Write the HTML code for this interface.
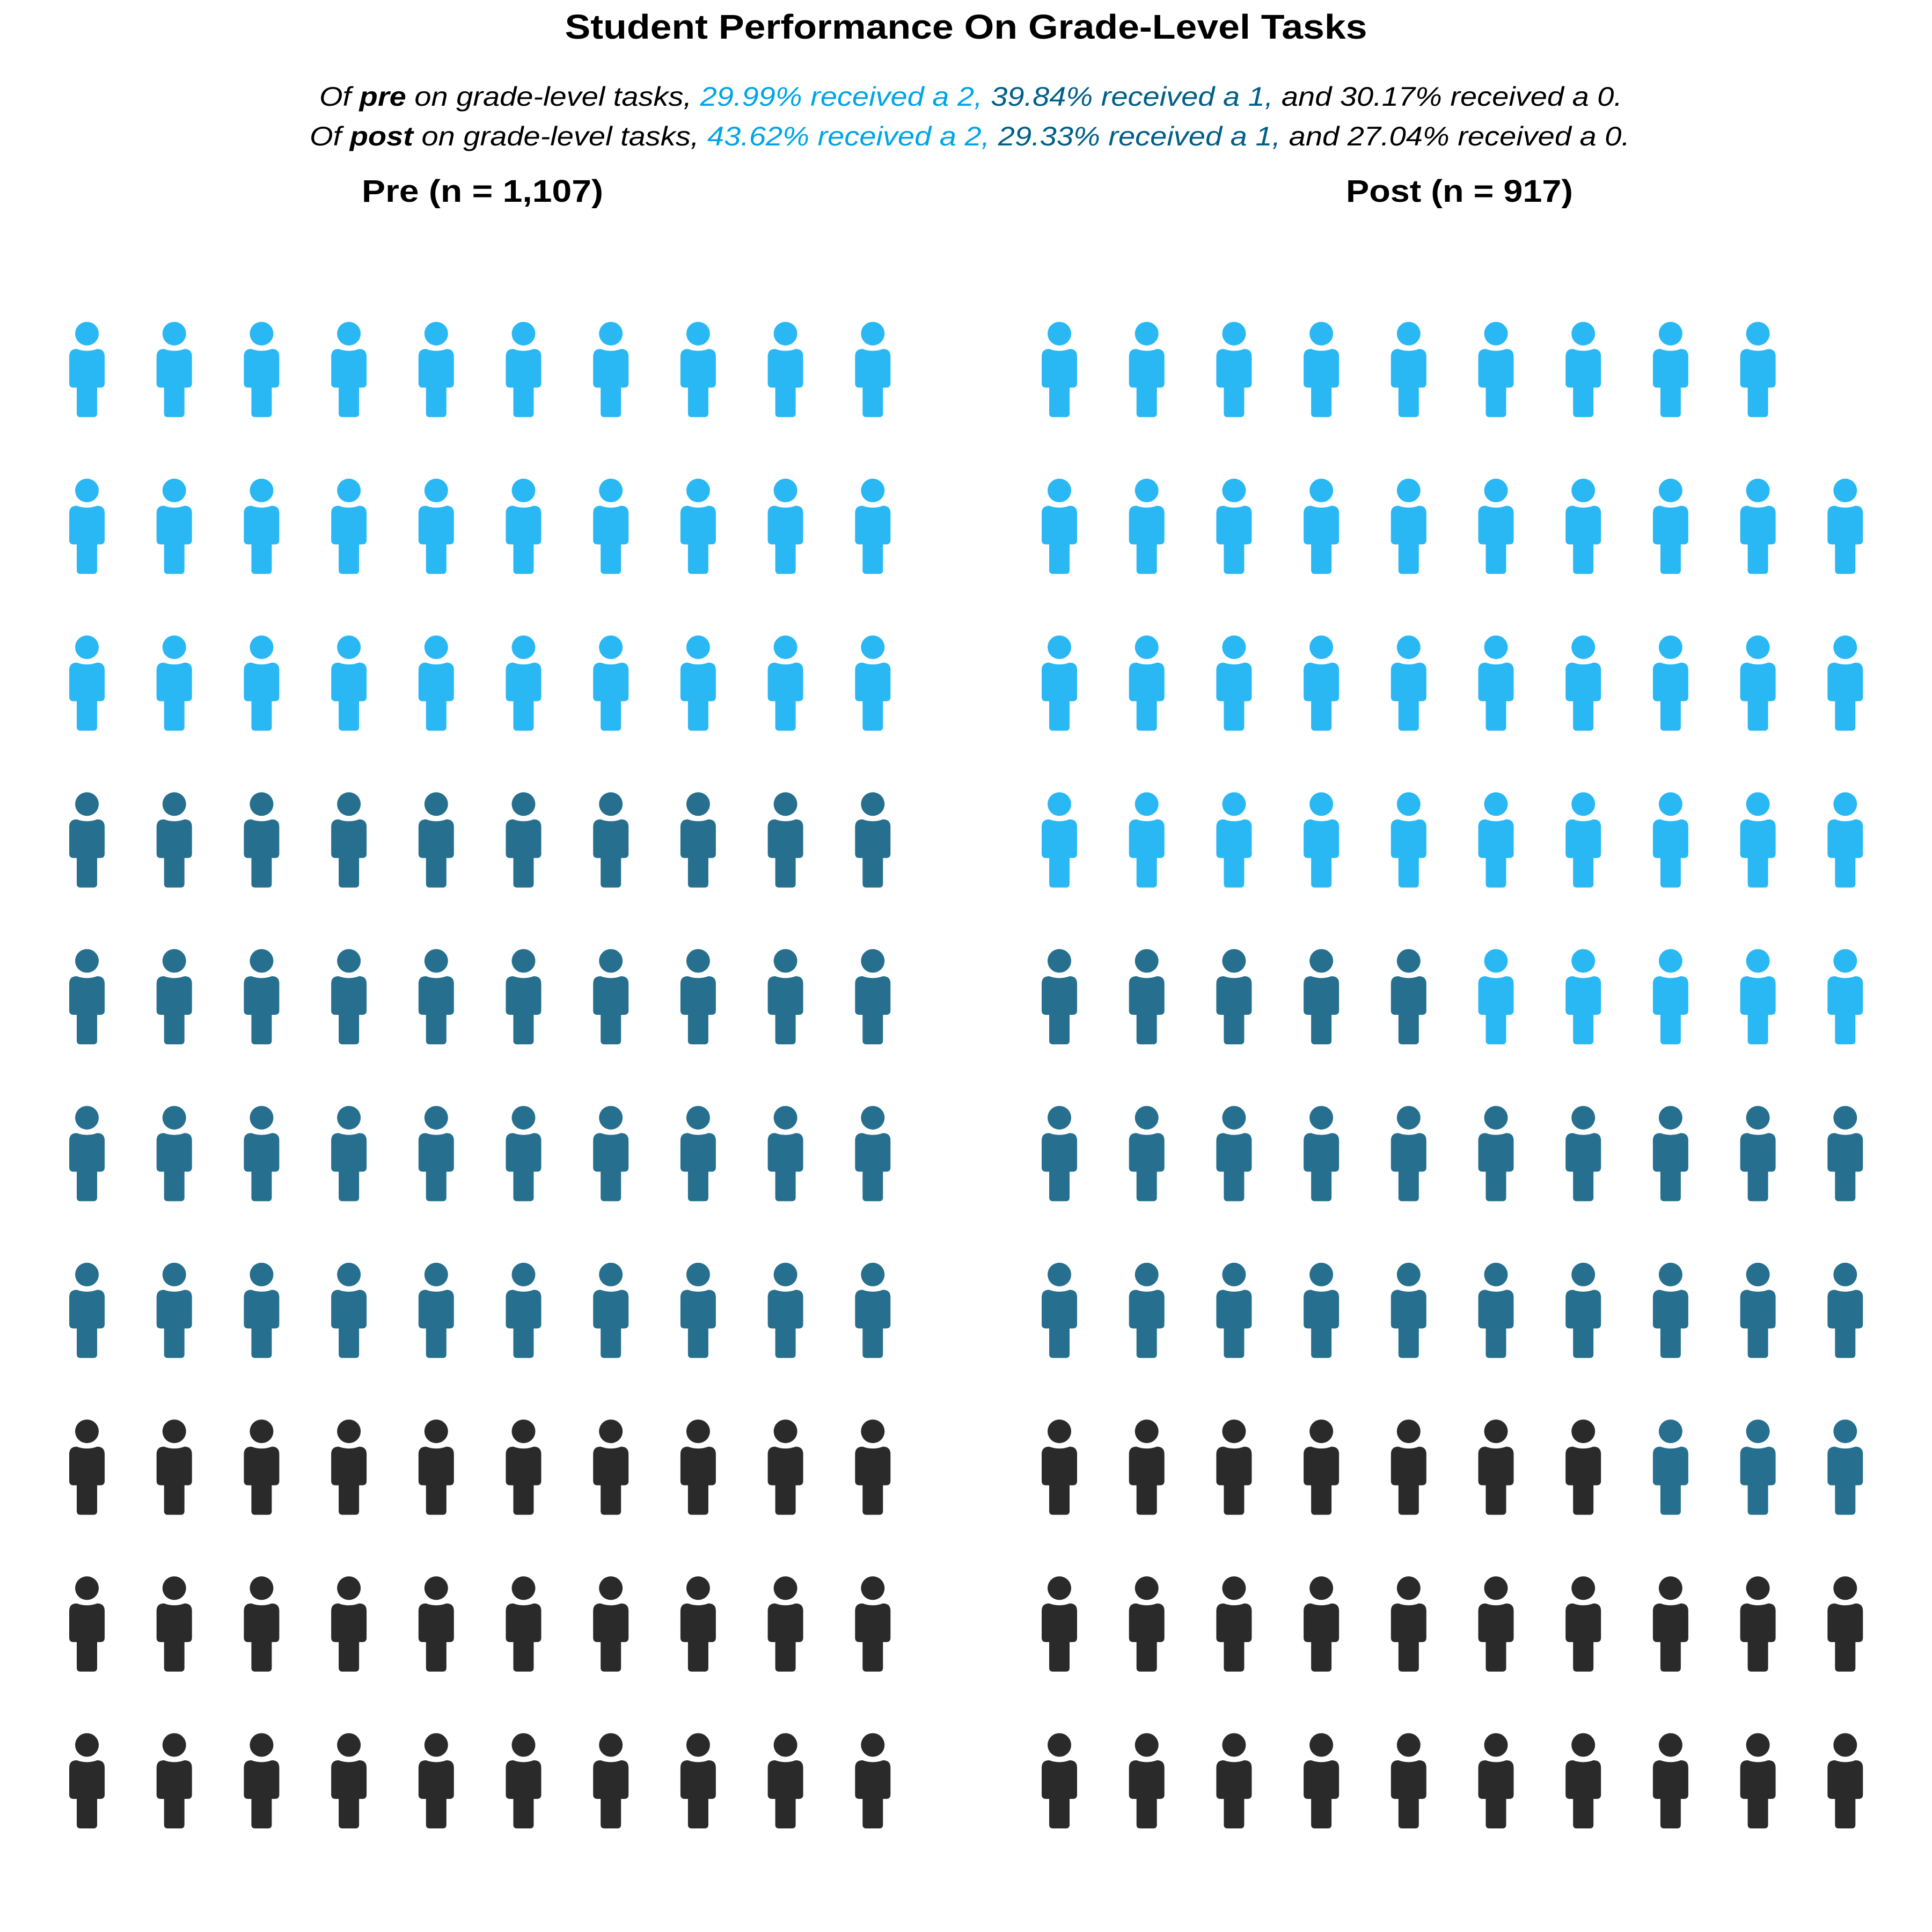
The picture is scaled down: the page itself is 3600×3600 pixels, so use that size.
<!DOCTYPE html>
<html><head><meta charset="utf-8"><style>html,body{margin:0;padding:0;background:#fff}svg{display:block}</style></head>
<body>
<svg id="chart" width="3600" height="3600" viewBox="0 0 3600 3600" xmlns="http://www.w3.org/2000/svg" font-family="'Liberation Sans', sans-serif">
<text x="1800" y="72" text-anchor="middle" font-weight="bold" font-size="64" textLength="1495" lengthAdjust="spacingAndGlyphs" fill="#000">Student Performance On Grade-Level Tasks</text>
<text x="595" y="197" font-style="italic" font-size="50" textLength="2428" lengthAdjust="spacingAndGlyphs" fill="#000">Of <tspan font-weight="bold">pre</tspan> on grade-level tasks, <tspan fill="#00A5E6">29.99% received a 2, </tspan> <tspan fill="#005F87">39.84% received a 1,</tspan> and 30.17% received a 0.</text>
<text x="577" y="271" font-style="italic" font-size="50" textLength="2460" lengthAdjust="spacingAndGlyphs" fill="#000">Of <tspan font-weight="bold">post</tspan> on grade-level tasks, <tspan fill="#00A5E6">43.62% received a 2, </tspan> <tspan fill="#005F87">29.33% received a 1,</tspan> and 27.04% received a 0.</text>
<text x="674" y="376" font-weight="bold" font-size="58" textLength="450" lengthAdjust="spacingAndGlyphs" fill="#000">Pre (n = 1,107)</text>
<text x="2508" y="376" font-weight="bold" font-size="58" textLength="423" lengthAdjust="spacingAndGlyphs" fill="#000">Post (n = 917)</text>
<g id="icons"></g>
</svg>
<script>
const panels = ["pre", "post"];
const preCounts = [30, 40, 30];   // score 0, score 1, score 2 (filled from bottom)
const postCounts = [27, 28, 44];
const categoryColors = ["#2A2A2A", "#266F8E", "#29B8F3"];
const categoryNames = ["score-0", "score-1", "score-2"];

const NS = "http://www.w3.org/2000/svg";
const g = document.getElementById("icons");
const panelX0 = [162, 1974];
const colStep = 162.7, rowStep = 292.2, firstHeadY = 621.7;
function colX(p, c) { return panelX0[p] + c * colStep; }
function rowY(r) { return firstHeadY + r * rowStep; }

function drawIcon(cx, hy, color, name) {
  const grp = document.createElementNS(NS, "g");
  
  
  const head = document.createElementNS(NS, "circle");
  head.setAttribute("cx", cx); head.setAttribute("cy", hy); head.setAttribute("r", 22);
  head.setAttribute("fill", color);
  
  
  const y0 = hy + 28.5;
  const d = `M${cx-33},${y0+14} Q${cx-33},${y0} ${cx-19},${y0} Q${cx},${y0+7} ${cx+19},${y0} Q${cx+33},${y0} ${cx+33},${y0+14} V${y0+64} Q${cx+33},${y0+72} ${cx+25},${y0+72} H${cx+19} V${y0+120} Q${cx+19},${y0+127} ${cx+12},${y0+127} H${cx-12} Q${cx-19},${y0+127} ${cx-19},${y0+120} V${y0+72} H${cx-25} Q${cx-33},${y0+72} ${cx-33},${y0+64} Z`;
  const body = document.createElementNS(NS, "path");
  body.setAttribute("d", d); body.setAttribute("fill", color);
  
  
  grp.appendChild(head); grp.appendChild(body);
  g.appendChild(grp);
}

[preCounts, postCounts].forEach((counts, p) => {
  let idx = 0;
  counts.forEach((n, k) => {
    for (let i = 0; i < n; i++, idx++) {
      const row = 9 - Math.floor(idx / 10);
      const col = idx % 10;
      drawIcon(colX(p, col), rowY(row), categoryColors[k], panels[p] + "-" + categoryNames[k] + "-icon");
    }
  });
});
</script>
</body></html>
